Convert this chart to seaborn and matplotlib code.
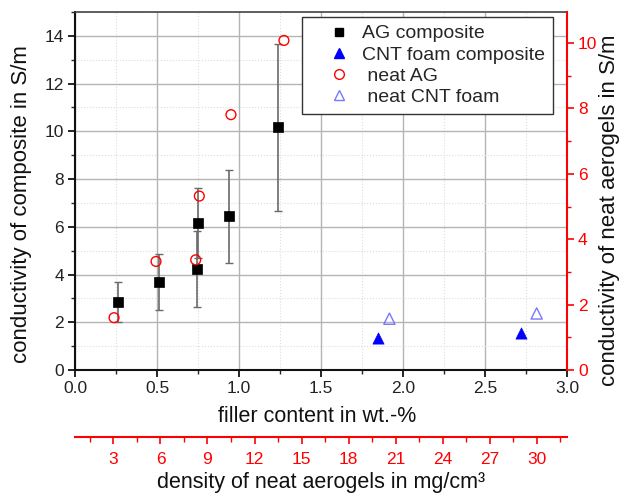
import matplotlib
matplotlib.use("Agg")
import matplotlib.pyplot as plt
from matplotlib.lines import Line2D
from matplotlib.ticker import MultipleLocator, FormatStrFormatter
import seaborn as sns
import pandas as pd

# ---- data ----
ag_wt = [0.264, 0.514, 0.746, 0.752, 0.941, 1.24]
ag_sigma = [2.84, 3.70, 4.22, 6.15, 6.45, 10.17]
ag_err = [0.83, 1.17, 1.60, 1.46, 1.95, 3.50]

neat_ag_wt = [0.238, 0.494, 0.736, 0.758, 0.951, 1.274]
neat_ag_sigma = [1.60, 3.32, 3.37, 5.32, 7.81, 10.08]

cnt_wt = [1.85, 2.72]
cnt_sigma = [1.33, 1.54]

neat_cnt_wt = [1.917, 2.815]
neat_cnt_sigma = [1.57, 1.73]

density_ticks = [3, 6, 9, 12, 15, 18, 21, 24, 27, 30]

sns.set_theme(style="white")
plt.rcParams['font.family'] = ['Liberation Sans', 'DejaVu Sans']

W, H = 622, 495
fig = plt.figure(figsize=(W / 100, H / 100), dpi=100)
ax = fig.add_axes([75 / W, 1 - 370 / H, (567 - 75) / W, (370 - 12) / H])

ag_df = pd.DataFrame({"wt": ag_wt, "s": ag_sigma})
cnt_df = pd.DataFrame({"wt": cnt_wt, "s": cnt_sigma})
nag_df = pd.DataFrame({"wt": neat_ag_wt, "s": neat_ag_sigma})
ncnt_df = pd.DataFrame({"wt": neat_cnt_wt, "s": neat_cnt_sigma})

TICK_FS = 12.5
YLABEL_FS = 16
XLABEL_FS = 15.5

ax.errorbar(ag_wt, ag_sigma, yerr=ag_err, fmt='none', ecolor='#6a6a6a',
            elinewidth=1.2, capsize=3, capthick=1.0, zorder=3)
sns.scatterplot(data=ag_df, x="wt", y="s", ax=ax, marker='s', s=55,
                color='black', edgecolor='black', linewidth=0.5, zorder=4)
sns.scatterplot(data=cnt_df, x="wt", y="s", ax=ax, marker='^', s=65,
                color='blue', edgecolor='blue', linewidth=0.5, zorder=4)

ax.set_xlim(0, 3.0)
ax.set_ylim(0, 15)
ax.xaxis.set_major_locator(MultipleLocator(0.5))
ax.xaxis.set_minor_locator(MultipleLocator(0.25))
ax.yaxis.set_major_locator(MultipleLocator(2))
ax.yaxis.set_minor_locator(MultipleLocator(1))
ax.grid(True, which='major', color='#b4b4b4', linewidth=1.0, linestyle='-')
ax.grid(True, which='minor', color='#dddddd', linewidth=0.8, linestyle=':')
ax.set_axisbelow(True)
ax.xaxis.set_major_formatter(FormatStrFormatter('%.1f'))
ax.tick_params(axis='both', which='major', direction='out', length=5, width=1.2,
               labelsize=TICK_FS, color='black', labelcolor='#222222', pad=3)
ax.tick_params(axis='both', which='minor', direction='out', length=3, width=1.0)
ax.tick_params(axis='x', which='both', bottom=True)
ax.tick_params(axis='y', which='both', left=True)
for sp in ['left', 'bottom']:
    ax.spines[sp].set_color('#111111')
    ax.spines[sp].set_linewidth(1.5)
ax.spines['top'].set_color('#444444')
ax.spines['top'].set_linewidth(1.2)
ax.set_xlabel("filler content in wt.-%", fontsize=XLABEL_FS, color='#111111')
ax.xaxis.set_label_coords(317 / W, 1 - 406 / H, transform=fig.transFigure)
ax.set_ylabel("conductivity of composite in S/m", fontsize=YLABEL_FS, color='#111111')
ax.yaxis.set_label_coords(32 / W, 1 - 204 / H, transform=fig.transFigure)

# right axis (neat aerogels)
ax2 = ax.twinx()
sns.scatterplot(data=nag_df, x="wt", y="s", ax=ax2, marker='o', s=50,
                facecolor='none', edgecolor='red', linewidth=1.0, zorder=4)
sns.scatterplot(data=ncnt_df, x="wt", y="s", ax=ax2, marker='^', s=65,
                facecolor='none', edgecolor='#7777ff', linewidth=1.0, zorder=4)
ax2.set_ylim(0, 10.95)
ax2.yaxis.set_major_locator(MultipleLocator(2))
ax2.yaxis.set_minor_locator(MultipleLocator(1))
ax2.tick_params(axis='y', which='major', direction='out', length=5, width=1.2,
                labelsize=TICK_FS, color='red', labelcolor='red', right=True, pad=3)
ax2.tick_params(axis='y', which='minor', direction='out', length=3, width=1.0,
                color='red', right=True)
ax2.spines['right'].set_color('red')
ax2.spines['right'].set_linewidth(1.5)
for sp in ['left', 'bottom', 'top']:
    ax2.spines[sp].set_visible(False)
ax2.set_xlabel("")
ax2.set_ylabel("conductivity of neat aerogels in S/m", fontsize=YLABEL_FS, color='#111111')
ax2.yaxis.set_label_coords(599 / W, 1 - 210 / H, transform=fig.transFigure)
ax2.grid(False)

# secondary bottom axis: density of neat aerogels
d0, d1 = 0.55, 31.93
slope = (d1 - d0) / 3.0
sec = ax.secondary_xaxis(-67 / 358, functions=(lambda w: d0 + slope * w,
                                                lambda d: (d - d0) / slope))
sec.set_xticks(density_ticks)
sec.xaxis.set_minor_locator(MultipleLocator(1.5))
sec.tick_params(axis='x', which='major', direction='out', length=5, width=1.2,
                labelsize=TICK_FS, color='red', labelcolor='red', pad=5.5)
sec.tick_params(axis='x', which='minor', direction='out', length=3.5, width=1.0, color='red')
sec.spines['bottom'].set_color('red')
sec.spines['bottom'].set_linewidth(1.5)
sec.set_xlabel("density of neat aerogels in mg/cm³", fontsize=XLABEL_FS, color='#111111')
sec.xaxis.set_label_coords(321 / W, 1 - 472 / H, transform=fig.transFigure)

# legend
handles = [
    Line2D([], [], marker='s', linestyle='none', color='black', markersize=6),
    Line2D([], [], marker='^', linestyle='none', color='blue', markersize=7),
    Line2D([], [], marker='o', linestyle='none', markerfacecolor='none',
           markeredgecolor='red', markersize=7),
    Line2D([], [], marker='^', linestyle='none', markerfacecolor='none',
           markeredgecolor='#7777ff', markersize=7),
]
labels = ["AG composite", "CNT foam composite", " neat AG", " neat CNT foam"]
leg = ax2.legend(handles, labels, loc='upper left',
                 bbox_to_anchor=(302 / W, 1 - 17 / H), bbox_transform=fig.transFigure,
                 fontsize=14, frameon=True, fancybox=False, edgecolor='#333333',
                 framealpha=1, borderpad=0.4, handletextpad=-0.3, labelspacing=0.18,
                 borderaxespad=0, handlelength=3.0)
leg.get_frame().set_linewidth(1.0)

fig.savefig("out.png", dpi=100)
